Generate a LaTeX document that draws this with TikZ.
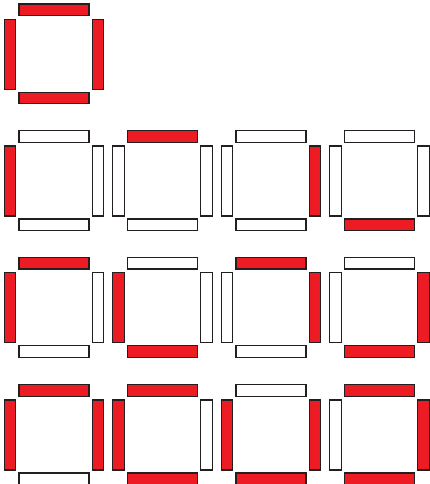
\documentclass[tikz,border=0pt]{standalone}
\usepackage{tikz}
\definecolor{segred}{HTML}{ED1C24}
\definecolor{segline}{HTML}{231F20}
\tikzset{
  on/.style={draw=segline,line width=1.2pt,fill=segred},
  off/.style={draw=segline,line width=1.2pt,fill=white}
}
\newcommand\segdigit[6]{%
  \begin{scope}[shift={(#1,#2)}]
    \path[#3] (15.3,0.6) rectangle (85.3,12);
    \path[#4] (0.6,15.8) rectangle (12,85.8);
    \path[#5] (88.7,15.8) rectangle (100.1,85.8);
    \path[#6] (15.3,88.8) rectangle (85.3,100.2);
  \end{scope}}
\begin{document}
\begin{tikzpicture}[x=1pt,y=-1pt]
\useasboundingbox[fill=white] (0,0) rectangle (430,484);
\segdigit{3.6}{3.4}{on}{on}{on}{on}
% row 2
\segdigit{3.6}{130.2}{off}{on}{off}{off}
\segdigit{112.1}{130.2}{on}{off}{off}{off}
\segdigit{220.6}{130.2}{off}{off}{on}{off}
\segdigit{329.1}{130.2}{off}{off}{off}{on}
% row 3
\segdigit{3.6}{257}{on}{on}{off}{off}
\segdigit{112.1}{257}{off}{on}{off}{on}
\segdigit{220.6}{257}{on}{off}{on}{off}
\segdigit{329.1}{257}{off}{off}{on}{on}
% row 4
\segdigit{3.6}{384.2}{on}{on}{on}{off}
\segdigit{112.1}{384.2}{on}{on}{off}{on}
\segdigit{220.6}{384.2}{off}{on}{on}{on}
\segdigit{329.1}{384.2}{on}{off}{on}{on}
\end{tikzpicture}
\end{document}
